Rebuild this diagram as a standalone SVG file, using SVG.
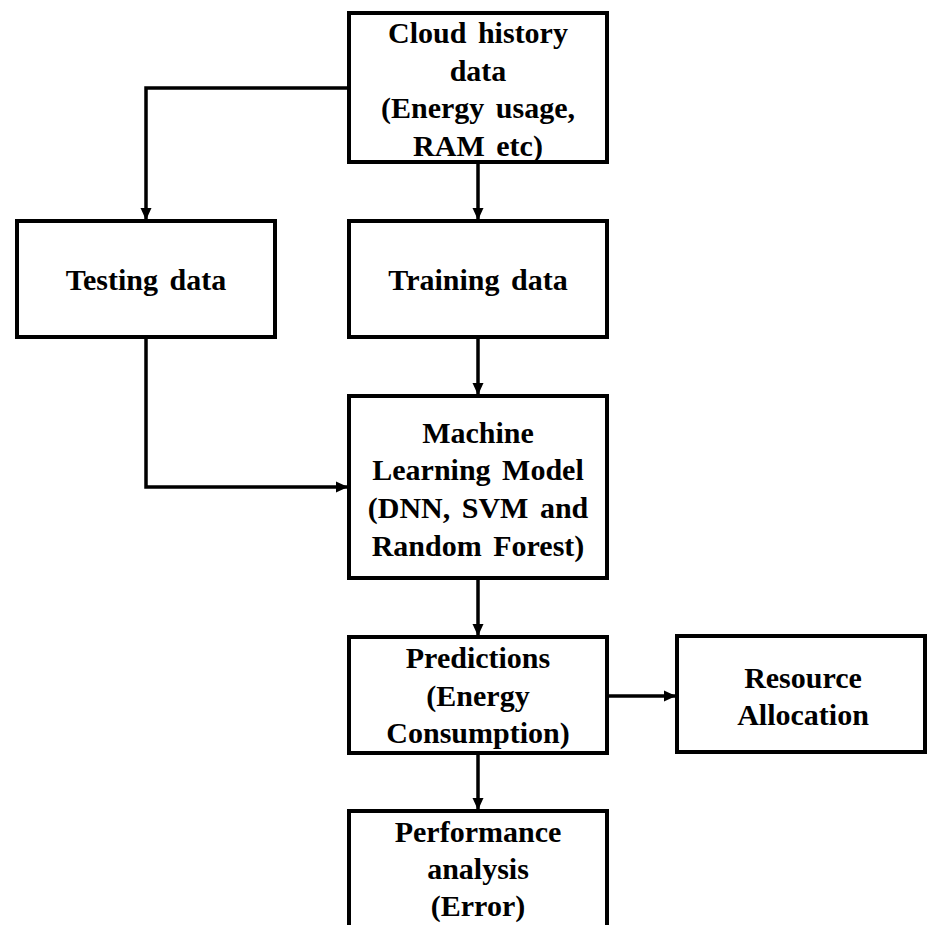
<svg xmlns="http://www.w3.org/2000/svg" width="927" height="925" viewBox="0 0 927 925">
  <style>
    .box { fill: #ffffff; stroke: #000000; stroke-width: 4; }
    .wire { fill: none; stroke: #000000; stroke-width: 3.5; }
    .label { font-family: "Liberation Serif", "Times New Roman", serif; font-weight: bold; font-size: 30px; word-spacing: 4px; fill: #000000; text-anchor: middle; }
  </style>
  <defs>
    <marker id="arrow" markerUnits="userSpaceOnUse" markerWidth="12" markerHeight="12" viewBox="0 0 12 12" refX="12" refY="6" orient="auto">
      <path d="M0,0.5 L12,6 L0,11.5 Z" fill="#000000"/>
    </marker>
  </defs>
  <rect width="927" height="925" fill="#ffffff"/>

  <g id="connectors">
    <path class="wire" d="M478 162 V220" marker-end="url(#arrow)"/>
    <path class="wire" d="M349 88 H146 V220" marker-end="url(#arrow)"/>
    <path class="wire" d="M146 337 V487 H348" marker-end="url(#arrow)"/>
    <path class="wire" d="M478 337 V395" marker-end="url(#arrow)"/>
    <path class="wire" d="M478 578 V636" marker-end="url(#arrow)"/>
    <path class="wire" d="M607 696 H676" marker-end="url(#arrow)"/>
    <path class="wire" d="M478 753 V810" marker-end="url(#arrow)"/>
  </g>

  <g id="cloud-history">
    <rect class="box" x="349" y="13" width="258" height="149"/>
    <text class="label" x="478" y="43">Cloud history</text>
    <text class="label" x="478" y="81">data</text>
    <text class="label" x="478" y="118">(Energy usage,</text>
    <text class="label" x="478" y="156">RAM etc)</text>
  </g>

  <g id="testing-data">
    <rect class="box" x="17" y="221" width="258" height="116"/>
    <text class="label" x="146" y="290">Testing data</text>
  </g>

  <g id="training-data">
    <rect class="box" x="349" y="221" width="258" height="116"/>
    <text class="label" x="478" y="290">Training data</text>
  </g>

  <g id="ml-model">
    <rect class="box" x="349" y="396" width="258" height="182"/>
    <text class="label" x="478" y="443">Machine</text>
    <text class="label" x="478" y="480">Learning Model</text>
    <text class="label" x="478" y="518">(DNN, SVM and</text>
    <text class="label" x="478" y="556">Random Forest)</text>
  </g>

  <g id="predictions">
    <rect class="box" x="349" y="637" width="258" height="116"/>
    <text class="label" x="478" y="668">Predictions</text>
    <text class="label" x="478" y="706">(Energy</text>
    <text class="label" x="478" y="743">Consumption)</text>
  </g>

  <g id="resource-allocation">
    <rect class="box" x="677" y="636" width="248" height="116"/>
    <text class="label" x="803" y="688">Resource</text>
    <text class="label" x="803" y="725">Allocation</text>
  </g>

  <g id="performance-analysis">
    <rect class="box" x="349" y="811" width="258" height="140"/>
    <text class="label" x="478" y="842">Performance</text>
    <text class="label" x="478" y="879">analysis</text>
    <text class="label" x="478" y="916">(Error)</text>
  </g>
</svg>
